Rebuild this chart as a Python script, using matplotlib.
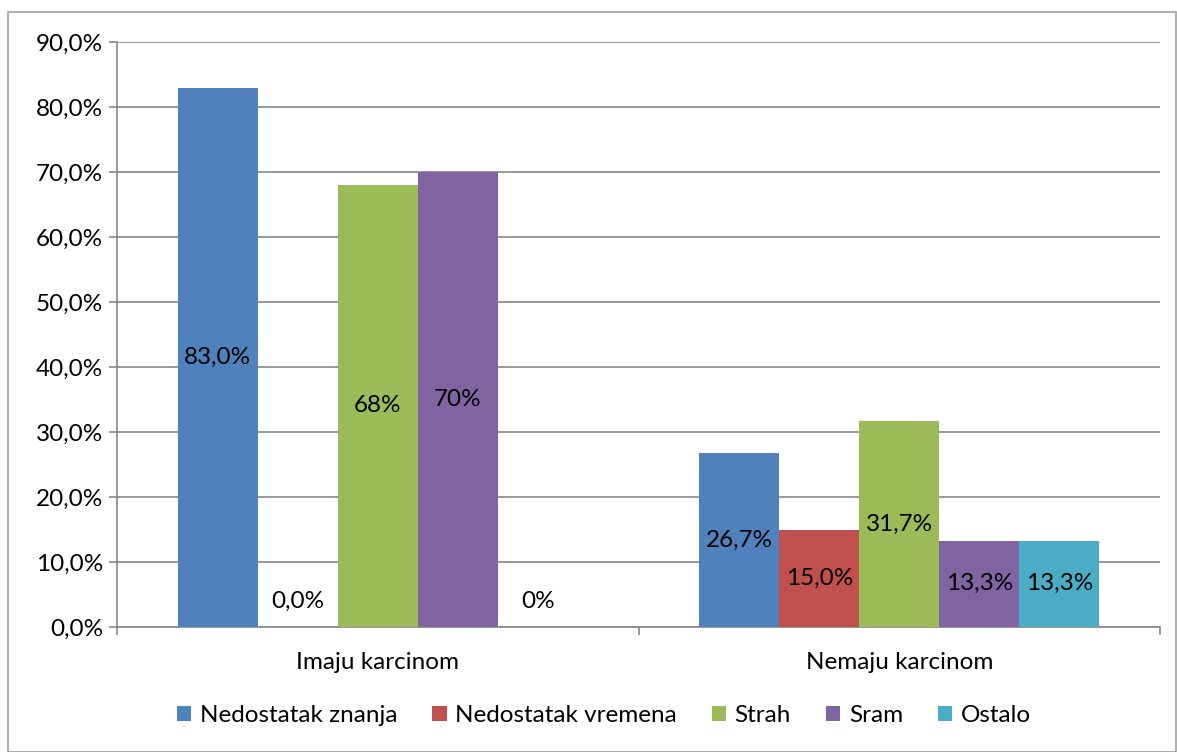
import numpy as np
import matplotlib
matplotlib.use("Agg")
import matplotlib.pyplot as plt
from matplotlib.patches import Rectangle

# podaci
groups = ["Imaju karcinom", "Nemaju karcinom"]
series = ["Nedostatak znanja", "Nedostatak vremena", "Strah", "Sram", "Ostalo"]
imaju = [83.0, 0.0, 68.0, 70.0, 0.0]
nemaju = [26.7, 15.0, 31.7, 13.3, 13.3]
imaju_labels = ["83,0%", "0,0%", "68%", "70%", "0%"]
nemaju_labels = ["26,7%", "15,0%", "31,7%", "13,3%", "13,3%"]
yticks = [0, 10, 20, 30, 40, 50, 60, 70, 80, 90]

colors = ["#4F81BD", "#C0504D", "#9BBB59", "#8064A2", "#4BACC6"]
grid_c = "#868686"
fs = 17.5

plt.rcParams['font.family'] = ['Lato', 'DejaVu Sans']

fig = plt.figure(figsize=(11.77, 7.52), dpi=100)
ax = fig.add_axes([117/1177, 125/752, 1043/1177, 585/752])

# okvir grafikona
fig.patches.append(Rectangle((8/1177, 0), 1168/1177, 740/752, transform=fig.transFigure,
                             fill=False, edgecolor="#A0A0A0", linewidth=1.2))

values = np.array([imaju, nemaju])
labels = [imaju_labels, nemaju_labels]
w = 80/521
x = np.arange(len(groups))
for i, name in enumerate(series):
    pos = x + (i - 2) * w
    ax.bar(pos, values[:, i], width=w, color=colors[i], label=name, zorder=3)
    for j in range(len(groups)):
        v = values[j, i]
        ax.text(pos[j], max(v / 2, 4.0), labels[j][i], ha="center", va="center",
                fontsize=fs, color="black", zorder=4)

ax.set_xlim(-0.5, 1.5)
ax.set_ylim(0, 90)
ax.set_yticks(yticks)
ax.set_yticklabels([f"{t:.1f}%".replace(".", ",") for t in yticks], fontsize=fs)
ax.yaxis.grid(True, color=grid_c, linewidth=1.2, zorder=0)
ax.set_xticks([-0.5, 0.5, 1.5])
ax.set_xticklabels([])
ax.set_xticks([0, 1], minor=True)
ax.set_xticklabels(groups, minor=True, fontsize=fs)
ax.tick_params(axis="x", which="minor", length=0, pad=18)
ax.tick_params(axis="x", which="major", length=6, color=grid_c, width=1.2)
ax.tick_params(axis="y", length=6, color=grid_c, width=1.2, pad=4)
for s in ["top", "right"]:
    ax.spines[s].set_visible(False)
for s in ["left", "bottom"]:
    ax.spines[s].set_color(grid_c)
    ax.spines[s].set_linewidth(1.2)

leg = ax.legend(loc="center", bbox_to_anchor=(0.467, -0.152), ncol=5, frameon=False,
                fontsize=fs, handlelength=0.58, handleheight=0.58, handletextpad=0.35,
                columnspacing=1.45)

fig.savefig("out.png", dpi=100)
